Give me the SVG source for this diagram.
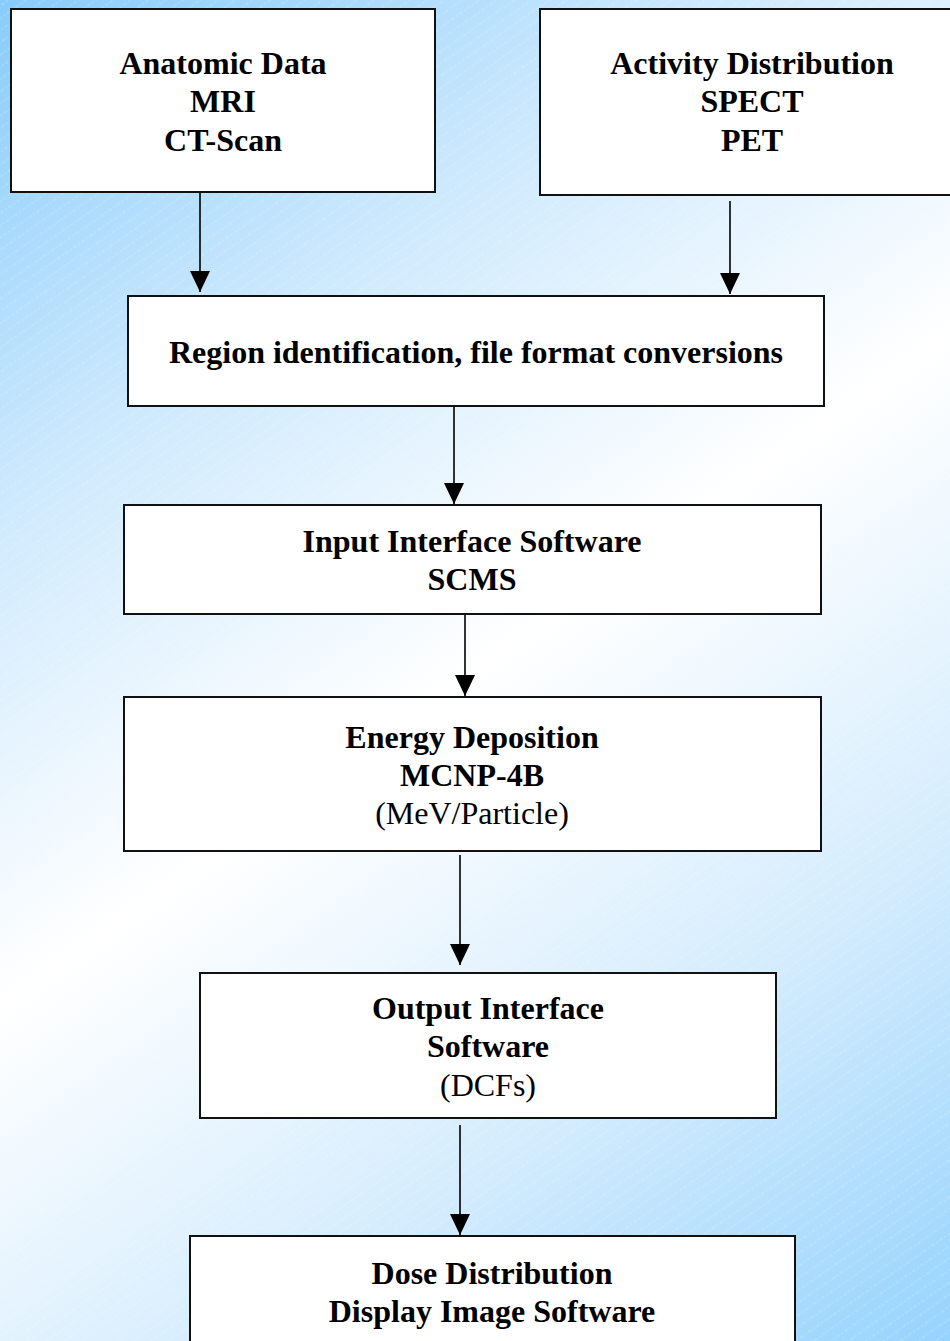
<svg xmlns="http://www.w3.org/2000/svg" width="950" height="1341" viewBox="0 0 950 1341">
<defs>
<linearGradient id="bg" gradientUnits="userSpaceOnUse" x1="0" y1="0" x2="950" y2="1341">
<stop offset="0" stop-color="#88ccfc"/>
<stop offset="0.25" stop-color="#cde9fd"/>
<stop offset="0.5" stop-color="#ffffff"/>
<stop offset="0.75" stop-color="#d4ecfd"/>
<stop offset="1" stop-color="#96d3fd"/>
</linearGradient>
<pattern id="stripes" patternUnits="userSpaceOnUse" width="10" height="10" patternTransform="rotate(-35)">
<line x1="0" y1="5" x2="10" y2="5" stroke="#ffffff" stroke-width="0.8" stroke-dasharray="2 2" opacity="0.35"/>
</pattern>
<marker id="arrow" markerWidth="21" markerHeight="20" refX="21" refY="10" orient="auto" markerUnits="userSpaceOnUse">
<path d="M0,0 L21,10 L0,20 Z" fill="#000"/>
</marker>
</defs>
<style>
.box{fill:#ffffff;stroke:#111111;stroke-width:2}
.b{font-family:"Liberation Serif","Times New Roman",serif;font-weight:bold;font-size:32px;fill:#000;text-anchor:middle}
.r{font-family:"Liberation Serif","Times New Roman",serif;font-size:32px;fill:#000;text-anchor:middle}
.conn{stroke:#000;stroke-width:1.6;fill:none}
</style>
<rect x="0" y="0" width="950" height="1341" fill="url(#bg)"/>
<rect x="0" y="0" width="950" height="1341" fill="url(#stripes)"/>

<g id="connectors">
<line class="conn" x1="200" y1="192" x2="200" y2="292" marker-end="url(#arrow)"/>
<line class="conn" x1="730" y1="201" x2="730" y2="294" marker-end="url(#arrow)"/>
<line class="conn" x1="454" y1="406" x2="454" y2="504" marker-end="url(#arrow)"/>
<line class="conn" x1="465" y1="614" x2="465" y2="696" marker-end="url(#arrow)"/>
<line class="conn" x1="460" y1="855" x2="460" y2="965" marker-end="url(#arrow)"/>
<line class="conn" x1="460" y1="1125" x2="460" y2="1235" marker-end="url(#arrow)"/>
</g>

<g id="anatomic">
<rect class="box" x="11" y="9" width="424" height="183"/>
<text class="b" x="223" y="74">Anatomic Data</text>
<text class="b" x="223" y="112">MRI</text>
<text class="b" x="223" y="151">CT-Scan</text>
</g>

<g id="activity">
<rect class="box" x="540" y="9" width="414" height="186"/>
<text class="b" x="752" y="74">Activity Distribution</text>
<text class="b" x="752" y="112">SPECT</text>
<text class="b" x="752" y="151">PET</text>
</g>

<g id="region">
<rect class="box" x="128" y="296" width="696" height="110"/>
<text class="b" x="476" y="363">Region identification, file format conversions</text>
</g>

<g id="input">
<rect class="box" x="124" y="505" width="697" height="109"/>
<text class="b" x="472" y="552">Input Interface Software</text>
<text class="b" x="472" y="590">SCMS</text>
</g>

<g id="energy">
<rect class="box" x="124" y="697" width="697" height="154"/>
<text class="b" x="472" y="748">Energy Deposition</text>
<text class="b" x="472" y="786">MCNP-4B</text>
<text class="r" x="472" y="824">(MeV/Particle)</text>
</g>

<g id="output">
<rect class="box" x="200" y="973" width="576" height="145"/>
<text class="b" x="488" y="1019">Output Interface</text>
<text class="b" x="488" y="1057">Software</text>
<text class="r" x="488" y="1096">(DCFs)</text>
</g>

<g id="dose">
<rect class="box" x="190" y="1236" width="605" height="120"/>
<text class="b" x="492" y="1284">Dose Distribution</text>
<text class="b" x="492" y="1322">Display Image Software</text>
</g>
</svg>
